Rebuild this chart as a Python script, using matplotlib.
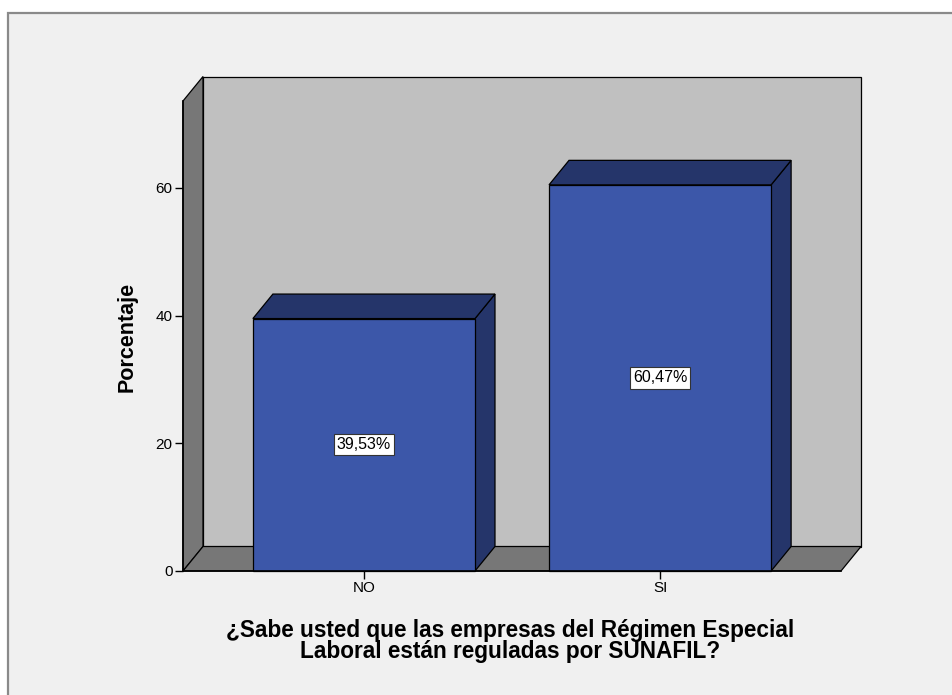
import matplotlib
matplotlib.use("Agg")
import matplotlib.pyplot as plt
from matplotlib.patches import Rectangle, Polygon

plt.rcParams['font.family'] = ['Liberation Sans', 'DejaVu Sans']

categories = ["NO", "SI"]
values = [39.53, 60.47]
value_labels = ["39,53%", "60,47%"]
yticks = [0, 20, 40, 60]
ylabel = "Porcentaje"
xlabel = "¿Sabe usted que las empresas del Régimen Especial\nLaboral están reguladas por SUNAFIL?"

W, H = 952, 695
fig = plt.figure(figsize=(W / 100, H / 100), dpi=100, facecolor="white")

# outer frame
frame = Rectangle((8 / W, -0.1), 1.2, (H - 13) / H + 0.1, transform=fig.transFigure,
                  facecolor="#f0f0f0", edgecolor="#8a8a8a", linewidth=1.6, zorder=-10)
fig.patches.append(frame)

# axes = front plane
L, R, B, T = 183, 841, 571, 101
ax = fig.add_axes([L / W, (H - B) / H, (R - L) / W, (B - T) / H])
ax.set_zorder(5)
ax.set_facecolor("none")
x0, x1 = -0.611, 1.611
ymax = 73.6
ax.set_xlim(x0, x1)
ax.set_ylim(0, ymax)

px_x = (x1 - x0) / (R - L)
px_y = ymax / (B - T)
ddx = 20 * px_x
ddy = 24.5 * px_y

wall = "#c0c0c0"
side = "#777777"
front = "#3c57a9"
dark = "#25356a"
lw = 0.9

# back wall
ax.add_patch(Rectangle((x0 + ddx, ddy), x1 - x0, ymax, facecolor=wall, edgecolor="black",
                       linewidth=lw, clip_on=False, zorder=1))
# left wall
ax.add_patch(Polygon([(x0, 0), (x0 + ddx, ddy), (x0 + ddx, ymax + ddy), (x0, ymax)],
                     closed=True, facecolor=side, edgecolor="black", linewidth=lw,
                     clip_on=False, zorder=2))
# floor
ax.add_patch(Polygon([(x0, 0), (x1, 0), (x1 + ddx, ddy), (x0 + ddx, ddy)],
                     closed=True, facecolor=side, edgecolor="black", linewidth=lw,
                     clip_on=False, zorder=2))

bw = 0.75
for i, (v, lab) in enumerate(zip(values, value_labels)):
    l, r = i - bw / 2, i + bw / 2
    ax.add_patch(Polygon([(r, 0), (r + ddx, ddy), (r + ddx, v + ddy), (r, v)], closed=True,
                         facecolor=dark, edgecolor="black", linewidth=lw, clip_on=False, zorder=3))
    ax.add_patch(Polygon([(l, v), (r, v), (r + ddx, v + ddy), (l + ddx, v + ddy)], closed=True,
                         facecolor=dark, edgecolor="black", linewidth=lw, clip_on=False, zorder=3))
    ax.add_patch(Rectangle((l, 0), bw, v, facecolor=front, edgecolor="black", linewidth=lw,
                           clip_on=False, zorder=4))
    ax.text(i, v / 2, lab, ha="center", va="center", fontsize=11.5, zorder=6,
            bbox=dict(boxstyle="square,pad=0.2", facecolor="white", edgecolor="#333333",
                      linewidth=0.8))

for s in ["top", "right"]:
    ax.spines[s].set_visible(False)
ax.spines["left"].set_bounds(0, ymax)
ax.spines["bottom"].set_bounds(x0, x1)
for s in ["left", "bottom"]:
    ax.spines[s].set_linewidth(1.2)
    ax.spines[s].set_zorder(5)

ax.set_yticks(yticks)
ax.set_xticks(range(len(categories)))
ax.set_xticklabels(categories)
ax.tick_params(axis="both", direction="out", length=6, width=1.0, labelsize=11,
               colors="black", pad=1.5)

ax.set_ylabel(ylabel, fontsize=15.5, fontweight="bold")
ax.yaxis.label.set_verticalalignment("center")
ax.yaxis.set_label_coords((127 - L) / (R - L), (B - 337) / (B - T))

ax.set_xlabel(xlabel, fontsize=16.3, fontweight="bold", linespacing=0.9)
ax.xaxis.label.set_verticalalignment("center")
ax.xaxis.set_label_coords((510 - L) / (R - L), (B - 641) / (B - T))

fig.savefig("out.png", dpi=100, facecolor=fig.get_facecolor())
